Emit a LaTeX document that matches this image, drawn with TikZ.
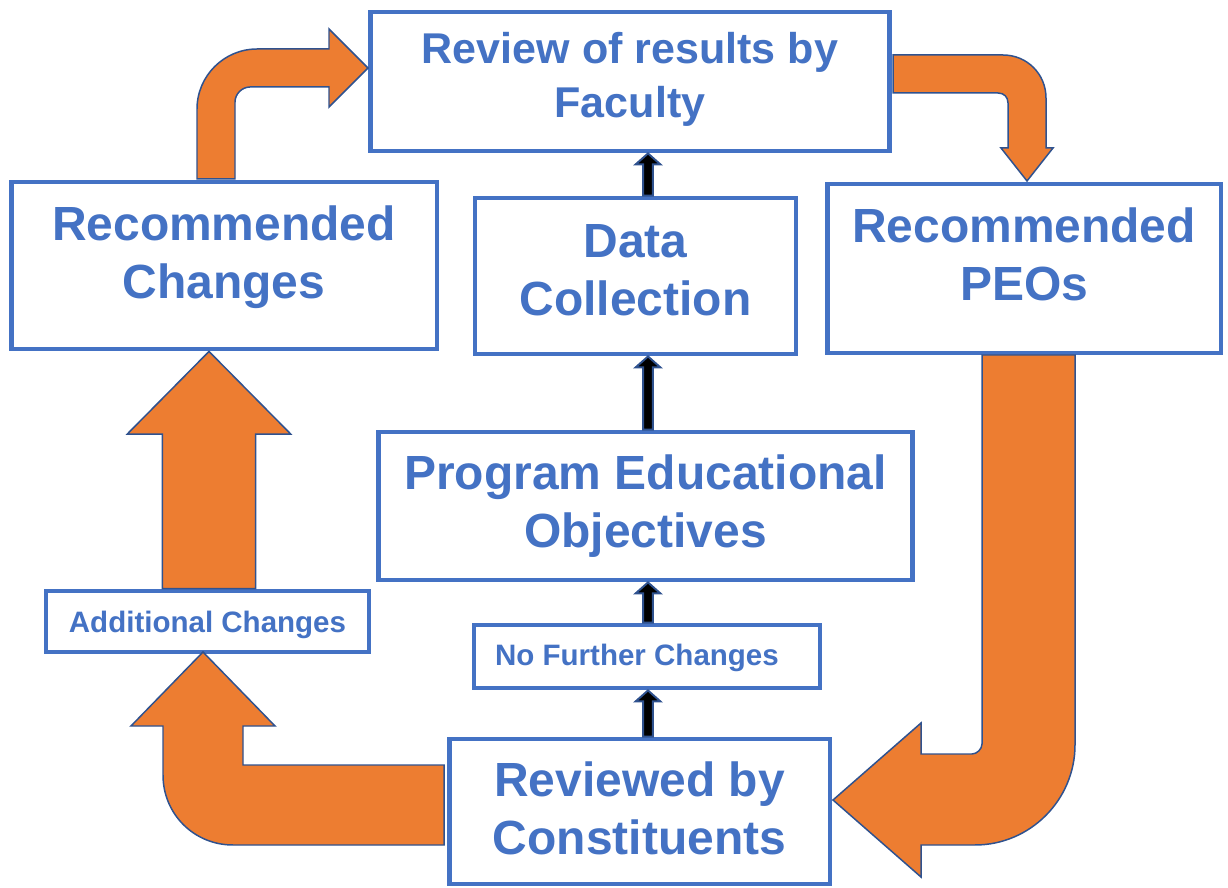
\documentclass[tikz,border=0pt]{standalone}
\usepackage{fontspec}
\setmainfont{Liberation Sans}
\usetikzlibrary{calc}
\definecolor{boxblue}{HTML}{4472C4}
\definecolor{edgeblue}{HTML}{2F528F}
\definecolor{floworange}{HTML}{ED7D31}
\tikzset{
  every picture/.style={line join=miter},
  stepbox/.style={draw=boxblue, line width=2.8pt, fill=white, inner sep=0pt},
  boxlabel/.style={text=boxblue, align=center, inner sep=0pt},
  bigtxt/.style={font=\fontsize{27.3pt}{32.9pt}\selectfont\bfseries},
  midtxt/.style={font=\fontsize{24.5pt}{30.6pt}\selectfont\bfseries},
  smalltxt/.style={font=\fontsize{16.8pt}{20pt}\selectfont\bfseries},
  flow/.style={fill=floworange, draw=edgeblue, line width=0.85pt},
  blockup/.style n args={3}{to path={let \p1=(\tikztostart), \p2=(\tikztotarget) in
    (\x1-#1,\y1) -- (\x1-#1,\y2-#3) -- (\x1-#2,\y2-#3) -- (\x1,\y2)
    -- (\x1+#2,\y2-#3) -- (\x1+#1,\y2-#3) -- (\x1+#1,\y1) -- cycle}},
  thinup/.style={blockup={2.8pt}{7pt}{6.2pt}, fill=black, draw=edgeblue, line width=1.1pt},
  fatup/.style={blockup={26.6pt}{46.5pt}{47pt}, flow},
}
\begin{document}
\begin{tikzpicture}[x=0.02cm, y=-0.02cm]
\useasboundingbox (0,0) rectangle (1228,888);
\node[stepbox, minimum width=10.4cm, minimum height=2.78cm,
  label={[boxlabel, midtxt, name=review-text, yshift=1.1pt]center:{Review of results by\\Faculty}}] (review) at (630,81.5) {};
\node[stepbox, minimum width=8.52cm, minimum height=3.34cm,
  label={[boxlabel, bigtxt, name=recch-text, yshift=4.5pt]center:{Recommended\\Changes}}] (recch) at (224,265.5) {};
\node[stepbox, minimum width=6.42cm, minimum height=3.12cm,
  label={[boxlabel, bigtxt, name=data-text, yshift=3.4pt]center:{Data\\Collection}}] (data) at (635.5,276) {};
\node[stepbox, minimum width=7.88cm, minimum height=3.38cm,
  label={[boxlabel, bigtxt, name=recpeo-text, yshift=7.9pt]center:{Recommended\\PEOs}}] (recpeo) at (1024,268.5) {};
\node[stepbox, minimum width=10.7cm, minimum height=2.96cm,
  label={[boxlabel, bigtxt, name=peo-text]center:{Program Educational\\Objectives}}] (peo) at (645.5,506) {};
\node[stepbox, minimum width=6.46cm, minimum height=1.22cm,
  label={[boxlabel, smalltxt, name=addch-text, yshift=-1.7pt]center:{Additional Changes}}] (addch) at (207.5,621.5) {};
\node[stepbox, minimum width=6.92cm, minimum height=1.26cm,
  label={[boxlabel, smalltxt, name=nofur-text, yshift=-1.1pt, xshift=-5.7pt]center:{No Further Changes}}] (nofur) at (647,656.5) {};
\node[stepbox, minimum width=7.62cm, minimum height=2.9cm,
  label={[boxlabel, bigtxt, name=revcon-text, yshift=1.7pt]center:{Reviewed by\\Constituents}}] (revcon) at (639.5,811.5) {};

\coordinate (midcol) at (648,0);
\coordinate (leftcol) at (209,0);
\draw[thinup] (midcol |- data.north) to (midcol |- review.south);
\draw[thinup] (midcol |- peo.north) to (midcol |- data.south);
\draw[thinup] (midcol |- nofur.north) to (midcol |- peo.south);
\draw[thinup] (midcol |- revcon.north) to (midcol |- nofur.south);
\draw[fatup] (leftcol |- addch.north) to (leftcol |- recch.south);

\draw[flow] (197,179) -- (197,109) .. controls (197,76) and (224,49) .. (257,49) -- (329,49) -- (329,29)
  -- (368,68) -- (329,107) -- (329,87) -- (250,87) .. controls (242,87) and (235,94) .. (235,102) -- (235,179) -- cycle;
\draw[flow] (893,55) -- (1003,55) .. controls (1027,55) and (1046,74) .. (1046,98) -- (1046,148) -- (1053,148)
  -- (1027,181) -- (1001,148) -- (1008,148) -- (1008,103) .. controls (1008,97) and (1004,93) .. (998,93) -- (893,93) -- cycle;
\draw[flow] (982,355) -- (1075,355) -- (1075,745) .. controls (1075,800) and (1030,845) .. (975,845) -- (921,845)
  -- (921,877) -- (833,800) -- (921,723) -- (921,754) -- (972,754) .. controls (977,754) and (982,749) .. (982,744) -- cycle;
\draw[flow] (444,765) -- (243,765) -- (243,726) -- (275,726) -- (203,652) -- (131,726) -- (163,726)
  -- (163,775) .. controls (163,814) and (194,845) .. (233,845) -- (444,845) -- cycle;
\end{tikzpicture}
\end{document}
